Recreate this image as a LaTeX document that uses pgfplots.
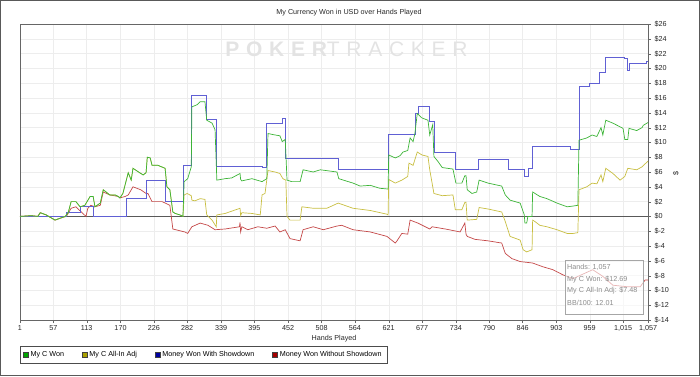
\documentclass[border=0pt]{standalone}
\usepackage{fontspec}
\setmainfont{Liberation Sans}
\usepackage{pgfplots}
\pgfplotsset{compat=1.18}
\definecolor{lgreen}{RGB}{60,180,55}
\definecolor{lyellow}{RGB}{200,190,65}
\definecolor{lblue}{RGB}{96,96,212}
\definecolor{lred}{RGB}{196,72,72}
\definecolor{sgreen}{RGB}{0,165,0}
\definecolor{syellow}{RGB}{170,160,0}
\definecolor{sblue}{RGB}{0,0,160}
\definecolor{sred}{RGB}{165,0,0}
\newcommand{\lfont}{\fontsize{7.2}{8.5}\selectfont}
\begin{document}
\begin{tikzpicture}[x=1pt,y=1pt]
\useasboundingbox (-20,-56) rectangle (680,320);
\draw[black!65, line width=1pt] (-19.5,-55.5) rectangle (679.5,319.5);
\node[font=\lfont, text=black!85] at (329,307) {My Currency Won in USD over Hands Played};
\begin{axis}[at={(0,0)}, anchor=south west, scale only axis,
  width=628pt, height=296pt,
  xmin=1, xmax=1057, ymin=-14, ymax=26,
  axis line style={black!60},
  grid=major, grid style={black!7},
  tick align=outside, major tick length=3pt, tick style={black!60},
  xtick pos=bottom, ytick pos=right, yticklabel pos=right,
  ytick={-14,-12,...,26},
  yticklabels={\$-14,\$-12,\$-10,\$-8,\$-6,\$-4,\$-2,\$0,\$2,\$4,\$6,\$8,\$10,\$12,\$14,\$16,\$18,\$20,\$22,\$24,\$26},
  xtick={1,57,113,170,226,282,339,395,452,508,564,621,677,734,790,846,903,959,1015,1057},
  xticklabels={1,57,113,170,226,282,339,395,452,508,564,621,677,734,790,846,903,959,{1,015},{1,057}},
  tick label style={font=\lfont, text=black!85},
  xticklabel style={yshift=1pt},
  /pgf/number format/assume math mode=true,
  xlabel={Hands Played}, xlabel style={font=\lfont, text=black!85, yshift=3pt},
  legend columns=4,
  legend style={at={(0,-0.088)}, anchor=north west, draw=black!70, font=\lfont,
    inner xsep=3pt, inner ysep=3pt,
    /tikz/every even column/.append style={column sep=16pt}},
  legend cell align=left,
  every axis plot/.append style={line width=0.7pt},
]
\addlegendimage{legend image code/.code={\draw[fill=sgreen, draw=black!75, line width=0.4pt] (0pt,-2.5pt) rectangle (5pt,2.5pt);}}
\addlegendentry{My C Won}
\addlegendimage{legend image code/.code={\draw[fill=syellow, draw=black!75, line width=0.4pt] (0pt,-2.5pt) rectangle (5pt,2.5pt);}}
\addlegendentry{My C All-In Adj}
\addlegendimage{legend image code/.code={\draw[fill=sblue, draw=black!75, line width=0.4pt] (0pt,-2.5pt) rectangle (5pt,2.5pt);}}
\addlegendentry{Money Won With Showdown}
\addlegendimage{legend image code/.code={\draw[fill=sred, draw=black!75, line width=0.4pt] (0pt,-2.5pt) rectangle (5pt,2.5pt);}}
\addlegendentry{Money Won Without Showdown}

\node[font=\fontsize{21}{22}\selectfont\bfseries\addfontfeature{LetterSpace=32}, text=black!11] at (axis cs:550,22.6) {POKER\mdseries TRACKER};

\addplot[forget plot, black!65, line width=1pt] coordinates {(1,0) (1057,0)};

% Money Won Without Showdown
\addplot[forget plot, lred] coordinates {
(1,0) (20,0.1) (31,0) (35,0.5) (45,0.2) (60,-0.5) (70,-0.2) (79,0) (87,1.1) (95,1.3) (104,0.6) (112,0) (115,1.1) (120,1.5) (127,1.3) (136,1.5) (141,3.3) (152,2.9) (166,2.7) (169,2.5) (178,2.7) (183,2.9) (191,4.0) (204,3.6) (213,3.1) (216,3.1) (223,2.0) (240,2.0) (253,1.5) (258,-1.7) (278,-2.1) (283,-2.3) (290,-1.4) (304,-0.9) (317,-1.2) (329,-1.8) (346,-1.7) (370,-1.4) (371,-0.8) (372,-2.1) (374,-1.4) (384,-1.8) (401,-1.4) (416,-1.6) (430,-1.3) (438,-2.1) (447,-1.8) (455,-3.0) (472,-3.3) (477,-1.8) (494,-1.4) (511,-1.8) (534,-1.3) (542,-1.2) (561,-1.8) (590,-2.1) (618,-2.7) (632,-3.6) (635,-3.3) (643,-2.3) (653,-2.4) (657,-0.5) (670,-0.9) (690,-1.7) (694,-1.4) (716,-1.7) (741,-2.1) (749,-0.9) (751,-2.4) (753,-2.7) (766,-3.1) (788,-3.3) (811,-3.6) (817,-5.0) (828,-5.7) (842,-6.1) (863,-6.3) (880,-6.8) (897,-7.2) (914,-7.9) (931,-8.4) (964,-7.2) (981,-8.1) (998,-9.3) (1022,-9.5) (1044,-9.5) (1052,-8.6) (1057,-8.6)
};

% Money Won With Showdown
\addplot[forget plot, lblue, const plot] coordinates {
(1,0) (79,0.6) (102,1.3) (124,0) (180,2.4) (214,4.9) (246,2.0) (276,6.9) (289,16.3) (315,13.1) (331,6.8) (408,6.6) (416,12.6) (442,13.2) (448,7.85) (536,6.3) (621,11.1) (665,13.9) (670,14.9) (689,12.8) (697,8.7) (733,6.3) (771,7.7) (822,6.4) (849,5.4) (855,6.5) (862,9.4) (926,9.1) (941,17.6) (959,18.0) (976,19.5) (986,21.5) (1017,21.3) (1022,19.8) (1025,20.7) (1054,21.0) (1057,21.0)
};

% My C All-In Adj
\addplot[forget plot, lyellow] coordinates {
(1,0) (20,0.1) (31,0) (35,0.5) (45,0.2) (60,-0.5) (70,-0.2) (77,0) (82,0.5) (87,2.0) (95,2.0) (102,1.3) (110,1.5) (119,2.7) (124,2.7) (127,1.3) (136,1.8) (141,3.6) (152,2.9) (161,2.9) (166,2.7) (169,2.5) (174,3.1) (183,5.9) (188,4.9) (191,6.5) (208,5.6) (213,5.9) (215,8.0) (220,7.9) (223,6.9) (233,6.9) (245,6.5) (248,4.0) (253,3.6) (258,0.6) (262,0.4) (270,0.2) (275,0) (277,2.9) (282,3.1) (289,2.8) (290,2.2) (295,2.1) (304,2.4) (312,2.3) (315,0.2) (324,-0.5) (331,-1.4) (332,0.2) (346,0.4) (371,1.1) (372,0.1) (374,0.5) (391,0.4) (405,0.2) (408,2.9) (413,3.1) (418,6.2) (430,6.0) (438,5.8) (443,5.1) (448,4.9) (450,0) (455,-0.5) (472,-0.5) (475,1.3) (494,1.1) (517,1.1) (536,1.8) (561,1.1) (590,0.8) (618,0.3) (620,0.2) (621,5.0) (632,4.5) (643,4.9) (653,5.4) (655,7.2) (662,6.9) (669,8.7) (677,8.3) (687,8.1) (690,6.3) (697,3.1) (711,2.8) (729,2.9) (733,0.9) (744,0.9) (749,1.9) (751,1.9) (753,-0.5) (769,-0.4) (773,1.2) (788,1.0) (811,0.6) (817,-0.7) (825,-2.7) (842,-3.2) (847,-4.5) (853,-4.8) (862,-4.5) (863,-0.5) (867,-0.7) (875,-1.2) (887,-1.4) (904,-1.8) (921,-2.3) (931,-2.3) (939,-2.2) (941,3.6) (954,4.0) (963,4.5) (971,4.4) (978,5.6) (981,4.7) (986,6.5) (998,5.8) (1010,4.9) (1018,5.4) (1023,6.5) (1038,6.3) (1047,6.7) (1057,7.48)
};

% My C Won
\addplot[forget plot, lgreen] coordinates {
(1,0) (20,0.1) (31,0) (35,0.5) (45,0.2) (60,-0.5) (70,-0.2) (77,0) (82,0.5) (87,2.0) (95,2.0) (102,1.3) (110,1.5) (119,2.7) (124,2.7) (127,1.3) (136,1.8) (141,3.6) (152,2.9) (161,2.9) (166,2.7) (169,2.5) (174,3.1) (183,5.9) (188,4.9) (191,6.5) (208,5.6) (213,5.9) (215,8.0) (220,7.9) (223,6.9) (233,6.9) (245,6.5) (248,4.0) (253,3.6) (258,0.6) (262,0.4) (270,0.2) (275,0) (277,4.7) (283,5.1) (289,6.7) (290,14.8) (299,15.1) (304,15.5) (312,15.5) (315,13.0) (324,12.6) (329,11.7) (332,4.9) (346,5.1) (357,5.2) (371,5.8) (372,5.0) (374,4.8) (391,5.1) (408,4.7) (416,5.1) (418,11.2) (430,11.0) (438,10.9) (442,10.1) (447,10.4) (450,4.9) (458,4.7) (472,4.7) (477,6.3) (494,6.0) (506,6.3) (534,6.0) (537,5.1) (561,4.5) (573,4.1) (590,4.2) (606,3.8) (620,3.7) (621,8.3) (632,7.9) (640,8.2) (645,8.7) (653,8.9) (657,10.6) (662,10.1) (665,11.2) (669,13.9) (677,13.3) (687,13.0) (690,11.0) (695,12.4) (697,8.1) (704,7.4) (711,6.6) (729,6.4) (734,4.5) (744,4.5) (749,5.5) (751,5.5) (753,3.6) (761,3.1) (769,3.3) (773,4.9) (788,4.5) (811,4.1) (817,2.9) (825,2.2) (842,1.8) (849,0.2) (850,-0.9) (853,-0.9) (855,0) (862,0) (863,3.3) (867,3.1) (875,2.7) (887,2.4) (904,1.8) (921,1.3) (931,1.4) (939,1.5) (941,10.3) (954,10.6) (963,11.0) (971,10.8) (978,12.0) (981,11.0) (986,13.0) (998,12.6) (1015,11.9) (1018,10.4) (1023,10.4) (1025,11.9) (1038,11.6) (1047,12.0) (1049,12.3) (1057,12.69)
};
\end{axis}
\node[font=\lfont, text=black!85, rotate=90] at (656,147) {\$};
\draw[black!35, fill=white, fill opacity=0.6] (545,6) rectangle (623,60);
\begin{scope}[font=\lfont, text=black!45]
\node[anchor=west, inner sep=0pt] at (547,52.3) {Hands: 1,057};
\node[anchor=west, inner sep=0pt] at (547,40.7) {My C Won: \$12.69};
\node[anchor=west, inner sep=0pt] at (547,29) {My C All-In Adj: \$7.48};
\node[anchor=west, inner sep=0pt] at (547,16.7) {BB/100: 12.01};
\end{scope}
\end{tikzpicture}
\end{document}
